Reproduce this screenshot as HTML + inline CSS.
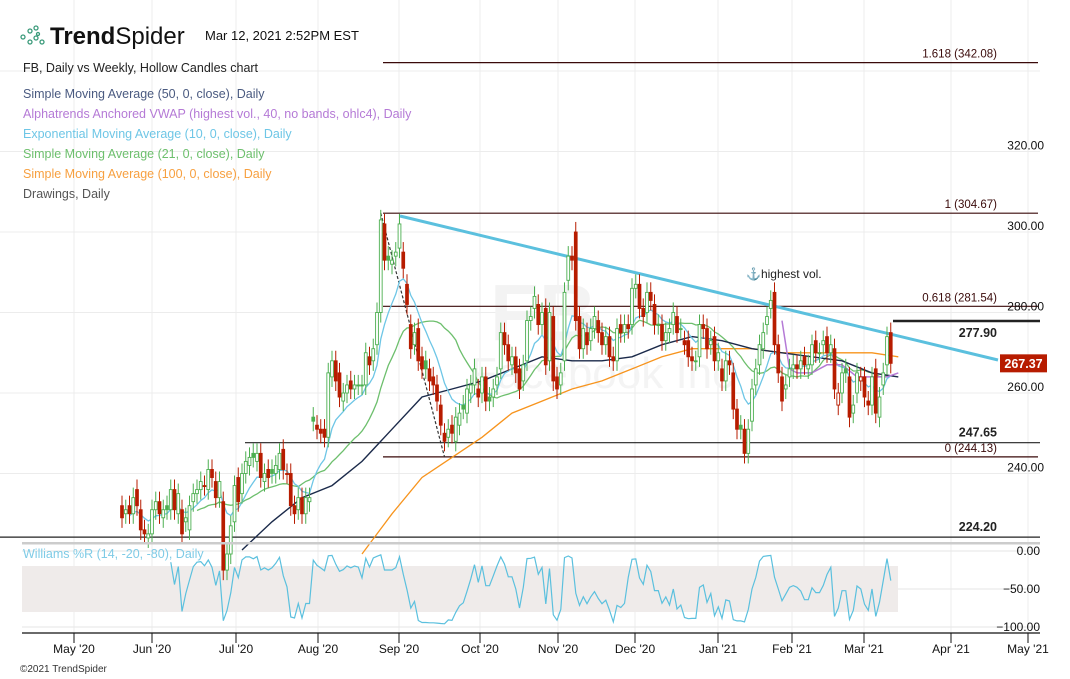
<!DOCTYPE html>
<html><head><meta charset="utf-8">
<style>
body{margin:0;background:#fff;font-family:"Liberation Sans",sans-serif;}
svg{display:block}
text{font-family:"Liberation Sans",sans-serif}
</style></head>
<body>
<svg id="chart" width="1070" height="679" viewBox="0 0 1070 679" xmlns="http://www.w3.org/2000/svg">
<g id="grid"></g>
<g>
<text x="490" y="340" font-size="80" font-weight="bold" fill="#f3f3f3">FB</text>
<text x="470" y="388" font-size="44" fill="#f4f4f4">Facebook Inc</text>
</g>
<rect x="22" y="566" width="876" height="46" fill="#efebea"/>
<g id="drawings"></g>
<g id="mas"></g>
<g id="candles"></g>
<g id="ind"></g>
<g id="axes"></g>
<g>
<g fill="none" stroke="#3a9a7a" stroke-width="1.3">
<circle cx="23" cy="37" r="2"/><circle cx="30" cy="31" r="2"/><circle cx="30" cy="42" r="2"/><circle cx="36" cy="28" r="2"/><circle cx="36" cy="38" r="2"/><circle cx="42" cy="42" r="2"/><circle cx="38" cy="34" r="1.5"/>
</g>
<text x="50" y="44" font-size="24" fill="#111"><tspan font-weight="bold">Trend</tspan>Spider</text>
<text x="205" y="40" font-size="13" fill="#111">Mar 12, 2021 2:52PM EST</text>
<g font-size="12.5">
<text x="23" y="72" fill="#222">FB, Daily vs Weekly, Hollow Candles chart</text>
<text x="23" y="98" fill="#4a5a80">Simple Moving Average (50, 0, close), Daily</text>
<text x="23" y="118" fill="#b57ad6">Alphatrends Anchored VWAP (highest vol., 40, no bands, ohlc4), Daily</text>
<text x="23" y="138" fill="#6ec6e6">Exponential Moving Average (10, 0, close), Daily</text>
<text x="23" y="158" fill="#6dbf6d">Simple Moving Average (21, 0, close), Daily</text>
<text x="23" y="178" fill="#f7a040">Simple Moving Average (100, 0, close), Daily</text>
<text x="23" y="198" fill="#555">Drawings, Daily</text>
</g>
<text x="23" y="558" font-size="12.5" fill="#7fcbe6">Williams %R (14, -20, -80), Daily</text>
<text x="20" y="672" font-size="10" fill="#333">©2021 TrendSpider</text>
</g>
</svg>
<script>
const opens=[232,230,232,230, 236,231,226,224, 225,231,233,229,232, 231,236,230,231,228, 226,233,235,236,237, 236,241,238,234,233, 216,220,228,239, 235,240,242,245,243, 245,238,241,241,240, 241,246,240,240,232, 231,234,230,233,254, 252,251,251,249,264, 268,265,258,260,263, 261,262,262,262,269, 268,272,280,302,294, 292,294,296,295,287, 277,272,276,269, 268,266,264,262,257, 250,249,252,248,252, 257,255,260,262,261, 260,264,259,259,262, 266,275,272,267,269, 266,263,268,278,281, 282,277,281,268,279, 264,262,268,288,294, 300,279,271,275,273, 276,278,275,272,274, 269,268,277,275, 277,277,286,287,281, 280,285,282,277,277, 273,275,277,279,276, 273,273,269,268, 269,277,276,272, 274,268,266,263,268, 265,256,252,251,245, 253,262,267,271, 277,281,285,272,264, 261,264,266,267,266, 269,266,267,273,270, 272,274,270,271, 257,260,266,264,255, 260,263,264,258,257, 266,254,262,267,275];
const closes=[229,231,230,234, 232,226,225,225, 231,233,230,231,231, 236,231,235,225,229, 232,235,236,238,237, 241,239,234,238,216, 220,227,237,233, 240,243,244,244,245, 239,240,239,240,242, 245,241,240,232,230, 234,230,234,234,253, 251,250,249,265,268, 263,259,260,262,261, 262,262,262,270,267, 271,280,303,293,293, 293,295,302,291,282, 271,275,268,266, 266,263,262,258,252, 248,251,250,254,255, 256,261,262,266,259, 264,258,258,261,264, 275,272,268,269,265, 261,267,278,279,284, 277,280,267,280,263, 261,265,285,294,293, 278,271,276,272,276, 279,275,272,274,269, 268,276,275,277, 276,286,287,281,279, 285,283,277,277,273, 275,276,280,275,276, 272,269,268,268, 277,276,271,273, 268,270,263,268,267, 256,251,251,245,251, 261,266,272,275, 279,283,272,265,258, 262,266,267,266,268, 267,267,272,270,270, 273,270,272,261, 260,265,265,254,257, 265,264,259,257,264, 255,259,265,274,267.37];
const maIdx=[32,40,48,56,64,72,80,88,96,104,112,120,128,136,144,152,160,168,176,184,192,200,207];
const sma50=[221,228,234,237,243,251,259,261,263,266,269,268,268,269,272,274,273,271,270,269,268,265,264];
const sma100Idx=[64,72,80,88,96,104,112,120,128,136,144,152,160,168,176,184,192,200,207];
const sma100=[220,230,239,244,249,255,258,261,263,266,269,271,271,271,270,270,270,270,269];
const vwapIdx=[176,178,180,184,188,192,196,200,204,207];
const vwap=[278,266,265,265,267,267,264,264,264,265];
const monthLabels=["May '20","Jun '20","Jul '20","Aug '20","Sep '20","Oct '20","Nov '20","Dec '20","Jan '21","Feb '21","Mar '21","Apr '21","May '21"];
const monthX=[74,152,236,318,399,480,558,635,718,792,864,951,1028];
const priceTicks=[320,300,280,260,240];
const wrTicks=[0,-50,-100];

const NS="http://www.w3.org/2000/svg";
const xOf=i=>152+(i-8)*3.75;
const yOf=p=>232+(300-p)*4.025;
const yWR=v=>551+(-v)*0.76;
function el(tag,attrs,parent){const e=document.createElementNS(NS,tag);for(const k in attrs)e.setAttribute(k,attrs[k]);parent.appendChild(e);return e;}
const G=id=>document.getElementById(id);

const grid=G('grid');
monthX.forEach(x=>{const l=el('line',{x1:x,x2:x,y1:0,y2:633,stroke:'#ececec'},grid);

});
priceTicks.forEach(p=>{const l=el('line',{x1:0,x2:1040,y1:yOf(p),y2:yOf(p),stroke:'#ececec'},grid);

});
el('line',{x1:0,x2:1040,y1:yOf(340),y2:yOf(340),stroke:'#ececec'},grid);
wrTicks.forEach(v=>{const l=el('line',{x1:22,x2:1040,y1:yWR(v),y2:yWR(v),stroke:'#e6e6e6'},grid);

});

const dr=G('drawings');
const fibs=[[342.08,'1.618 (342.08)'],[304.67,'1 (304.67)'],[281.54,'0.618 (281.54)'],[244.13,'0 (244.13)']];
fibs.forEach(f=>{const l=el('line',{x1:383,x2:1038,y1:yOf(f[0]),y2:yOf(f[0]),stroke:'#3a0a0a','stroke-width':1.2},dr);


const t=el('text',{x:997,y:yOf(f[0])-5,'text-anchor':'end','font-size':11.5,fill:'#3a0a0a'},dr);t.textContent=f[1];

});
const hl=[[247.65,245,1040],[224.20,0,1040],[277.90,893,1040]];
hl.forEach(h=>{const l=el('line',{x1:h[1],x2:h[2],y1:yOf(h[0]),y2:yOf(h[0]),stroke:'#222','stroke-width':h[0]==277.9?2.5:1.2},dr);


const t=el('text',{x:997,y:yOf(h[0])+ (h[0]==277.9?16:-6),'text-anchor':'end','font-size':12.5,'font-weight':'bold',fill:'#222'},dr);t.textContent=h[0].toFixed(2);

});
{const d=el('line',{x1:xOf(69),y1:yOf(304.67),x2:xOf(86),y2:yOf(244.13),stroke:'#333','stroke-width':1.2,'stroke-dasharray':'3,2'},dr);

}
{const t=el('line',{x1:400,y1:216,x2:998,y2:360,stroke:'#5bc0de','stroke-width':3},dr);

}
{const a=el('text',{x:746,y:278,'font-size':12,fill:'#222'},dr);a.textContent='⚓highest vol.';

}

const ma=G('mas');
function poly(idx,vals,color,w,name){const pts=idx.map((i,k)=>xOf(i).toFixed(1)+','+yOf(vals[k]).toFixed(1)).join(' ');
const p=el('polyline',{points:pts,fill:'none',stroke:color,'stroke-width':w},ma);

}
const allIdx=closes.map((c,i)=>i);
const ema=[];closes.forEach((c,i)=>{ema.push(i==0?c:ema[i-1]+(c-ema[i-1])*2/11);});
const s21i=[],s21=[];for(let i=20;i<closes.length;i++){let s=0;for(let j=i-20;j<=i;j++)s+=closes[j];s21i.push(i);s21.push(s/21);}
poly(sma100Idx,sma100,'#f7941d',1.3,'sma100-line');
poly(s21i,s21,'#6dbf6d',1.3,'sma21-line');
poly(maIdx,sma50,'#1b2a4a',1.4,'sma50-line');
poly(allIdx.slice(2),ema.slice(2),'#6ec6e6',1.3,'ema10-line');
poly(vwapIdx,vwap,'#b57ad6',1.5,'vwap-line');

const cg=G('candles');
const highs=[],lows=[];
closes.forEach((c,i)=>{const o=opens[i];const hi=Math.max(o,c)+2.5,lo=Math.min(o,c)-2.5;highs.push(hi);lows.push(lo);
const up=i==0?c>=o:c>=closes[i-1];const col=up?'#4caf50':'#b71c00';const x=xOf(i);
const w=el('line',{x1:x,x2:x,y1:yOf(hi),y2:yOf(lo),stroke:col,'stroke-width':1},cg);


const top=yOf(Math.max(o,c)),h=Math.max(1,Math.abs(yOf(o)-yOf(c)));
const hollow=c>o;
const r=el('rect',{x:x-1.4,y:top,width:2.8,height:h,fill:hollow?'#fff':col,stroke:col,'stroke-width':0.9},cg);

});

const ig=G('ind');
const wr=[],wri=[];for(let i=13;i<closes.length;i++){let hh=-1e9,ll=1e9;for(let j=i-13;j<=i;j++){hh=Math.max(hh,highs[j]);ll=Math.min(ll,lows[j]);}wri.push(i);wr.push((hh-closes[i])/(hh-ll)*-100);}
{const p=el('polyline',{points:wri.map((i,k)=>xOf(i).toFixed(1)+','+yWR(wr[k]).toFixed(1)).join(' '),fill:'none',stroke:'#5bc0de','stroke-width':1.2},ig);

}

const ax=G('axes');
el('rect',{x:22,y:542,width:1018,height:2.5,fill:'#ccc'},ax);
el('line',{x1:22,x2:1040,y1:633,y2:633,stroke:'#111','stroke-width':1.2},ax);
monthX.forEach((x,k)=>{el('line',{x1:x,x2:x,y1:633,y2:643,stroke:'#111'},ax);
const t=el('text',{x:x,y:653,'text-anchor':'middle','font-size':12,fill:'#111'},ax);t.textContent=monthLabels[k];

});
priceTicks.forEach(p=>{const t=el('text',{x:1044,y:yOf(p)-2,'text-anchor':'end','font-size':12,fill:'#111'},ax);t.textContent=p.toFixed(2);

});
wrTicks.forEach(v=>{const t=el('text',{x:1040,y:yWR(v)+4,'text-anchor':'end','font-size':12,fill:'#111'},ax);t.textContent=(v<0?'−':'')+Math.abs(v).toFixed(2);

});
{const last=closes[closes.length-1];const y=yOf(last);
const r=el('rect',{x:1000,y:y-9,width:47,height:18,fill:'#b71c00'},ax);


const t=el('text',{x:1023.5,y:y+4.5,'text-anchor':'middle','font-size':12.5,'font-weight':'bold',fill:'#fff'},ax);t.textContent=last.toFixed(2);

}
</script>
</body></html>
